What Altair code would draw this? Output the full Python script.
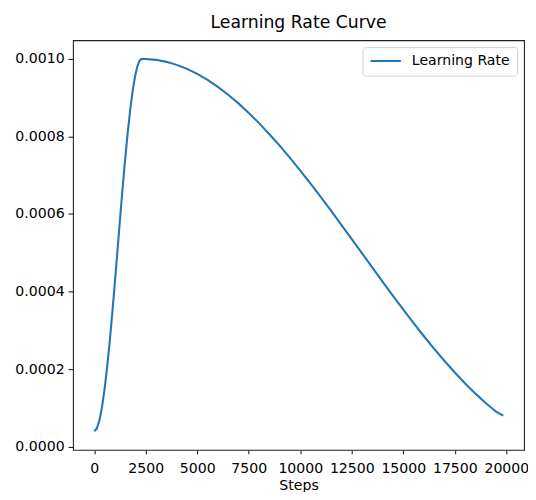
import altair as alt
import pandas as pd

steps = [0, 125, 250, 375, 500, 625, 750, 875, 1000, 1125, 1250, 1375, 1500,
         1625, 1750, 1875, 2000, 2100, 2200, 2300, 2500, 3000, 3500, 4000,
         4500, 5000, 5500, 6000, 6500, 7000, 7500, 8000, 8500, 9000, 9500,
         10000, 10500, 11000, 11500, 12000, 12500, 13000, 13500, 14000, 14500,
         15000, 15500, 16000, 16500, 17000, 17500, 18000, 18500, 19000, 19500,
         19850]
lr = [0.0000400, 0.0000470, 0.0000677, 0.0001016, 0.0001477, 0.0002045,
      0.0002703, 0.0003439, 0.0004224, 0.0005036, 0.0005854, 0.0006652,
      0.0007410, 0.0008099, 0.0008708, 0.0009212, 0.0009599, 0.0009822,
      0.0009955, 0.0010000, 0.0009998, 0.0009974, 0.0009922, 0.0009845,
      0.0009741, 0.0009611, 0.0009456, 0.0009278, 0.0009076, 0.0008852,
      0.0008607, 0.0008343, 0.0008058, 0.0007762, 0.0007448, 0.0007121,
      0.0006783, 0.0006435, 0.0006079, 0.0005717, 0.0005352, 0.0004984,
      0.0004617, 0.0004252, 0.0003892, 0.0003535, 0.0003188, 0.0002850,
      0.0002524, 0.0002212, 0.0001914, 0.0001633, 0.0001371, 0.0001128,
      0.0000906, 0.0000805]
series = ["Learning Rate"] * len(steps)

x_ticks = [0, 2500, 5000, 7500, 10000, 12500, 15000, 17500, 20000]
y_ticks = [0.0, 0.0002, 0.0004, 0.0006, 0.0008, 0.0010]

df = pd.DataFrame({"Step": steps, "LR": lr, "series": series})

FONT = "DejaVu Sans"

chart = alt.Chart(df).mark_line(strokeWidth=2.1).encode(
    x=alt.X("Step:Q",
            scale=alt.Scale(domain=[-1030, 20860], nice=False, zero=False),
            axis=alt.Axis(title="Steps", values=x_ticks, format="d",
                          tickSize=4, labelPadding=8, titlePadding=3)),
    y=alt.Y("LR:Q",
            scale=alt.Scale(domain=[-0.000008, 0.001048], nice=False, zero=False),
            axis=alt.Axis(title=None, values=y_ticks, format=".4f",
                          labelPadding=4)),
    color=alt.Color("series:N",
                    scale=alt.Scale(range=["#1f77b4"]),
                    legend=alt.Legend(title=None, orient="top-right", offset=7,
                                      padding=7, strokeColor="#d0d0d0",
                                      cornerRadius=3, fillColor="white",
                                      symbolType="stroke", symbolSize=950,
                                      symbolStrokeWidth=2.1, clipHeight=14,
                                      labelFontSize=14.3, labelFont=FONT,
                                      labelColor="black", labelOffset=10)),
).properties(
    width=458,
    height=416,
    title=alt.Title("Learning Rate Curve", fontSize=17.5, font=FONT,
                    fontWeight="normal", color="black", offset=9),
    autosize=alt.AutoSizeParams(type="none"),
    padding={"left": 66, "top": 29, "right": 4, "bottom": 39},
).configure_view(
    stroke="#222222", strokeWidth=1.1
).configure_axis(
    domain=False, grid=False, tickColor="#222222", tickSize=5, tickWidth=1.1,
    labelColor="black", labelFont=FONT, labelFontSize=14.3,
    titleColor="black", titleFont=FONT, titleFontSize=14.3,
    titleFontWeight="normal"
)

chart.save("out.html", embed_options={"renderer": "svg", "actions": False})
